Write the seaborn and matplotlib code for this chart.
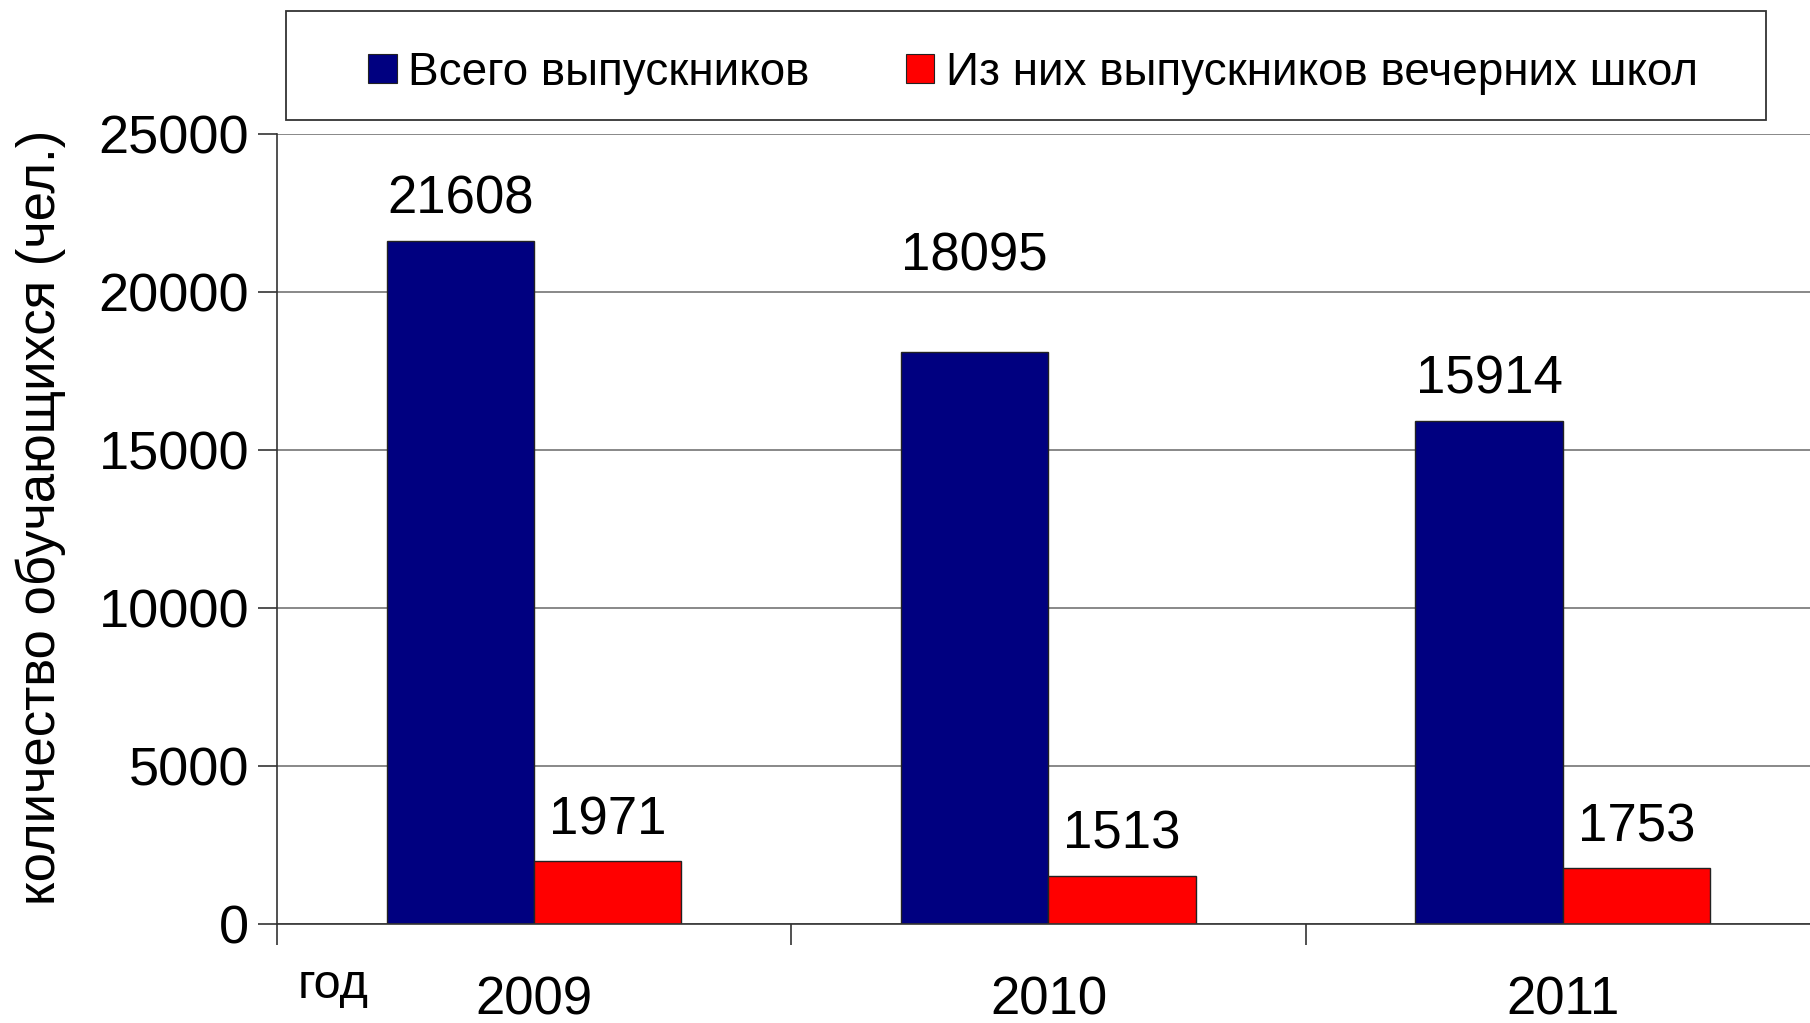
import matplotlib
matplotlib.use("Agg")
import matplotlib.pyplot as plt
import matplotlib.patches as mpatches
import seaborn as sns
import pandas as pd

years = ['2009', '2010', '2011']
series_names = ['Всего выпускников', 'Из них выпускников вечерних школ']
total_grads = [21608, 18095, 15914]
evening_grads = [1971, 1513, 1753]
y_ticks = [0, 5000, 10000, 15000, 20000, 25000]

y_label = 'количество обучающихся (чел.)'
x_note = 'год'

colors = ['#000080', '#FF0000']

def main():
    df = pd.DataFrame({
        'year': years * 2,
        'series': [series_names[0]] * 3 + [series_names[1]] * 3,
        'value': total_grads + evening_grads,
    })

    sns.set_style('white')
    plt.rcParams['font.family'] = ['Liberation Sans', 'DejaVu Sans']
    plt.rcParams['text.color'] = 'black'
    plt.rcParams['axes.labelcolor'] = 'black'
    plt.rcParams['xtick.labelcolor'] = 'black'
    plt.rcParams['ytick.labelcolor'] = 'black'

    fig = plt.figure(figsize=(18.1, 10.23), dpi=100)
    ax = fig.add_axes([0.153, 0.0971, 0.8525, 0.772])

    sns.barplot(data=df, x='year', y='value', hue='series', order=years,
                hue_order=series_names, palette=colors, saturation=1,
                width=0.573, edgecolor='#222222', linewidth=1.0, ax=ax)

    ax.set_xlim(-0.5, 2.5)
    ax.set_ylim(0, 25000)
    ax.set_yticks(y_ticks)
    ax.set_yticklabels([str(t) for t in y_ticks], fontsize=39)
    ax.yaxis.grid(True, color='#7f7f7f', linewidth=1.3)
    ax.set_axisbelow(True)

    # подписи годов далеко под осью, засечки на границах категорий
    ax.set_xticks([0, 1, 2])
    ax.set_xticklabels(years, fontsize=38)
    ax.tick_params(axis='x', which='major', length=0, pad=37)
    ax.set_xticks([-0.5, 0.5, 1.5, 2.5], minor=True)
    ax.tick_params(axis='x', which='minor', length=15, width=1.2,
                   direction='out', color='#333333', bottom=True)
    ax.tick_params(axis='y', length=14, width=1.2, direction='out',
                   color='#333333', left=True, pad=6)

    for side in ['top', 'right']:
        ax.spines[side].set_visible(False)
    for side in ['left', 'bottom']:
        ax.spines[side].set_color('#333333')
        ax.spines[side].set_linewidth(1.2)

    ax.set_xlabel('')
    ax.set_ylabel(y_label, fontsize=38)
    ax.yaxis.set_label_coords(-0.137, 0.514)

    # подписи значений над столбцами
    for cont in ax.containers:
        for bar in cont:
            h = bar.get_height()
            off = 1300
            if h == total_grads[1]:
                off = 3030
            ax.text(bar.get_x() + bar.get_width() / 2, h + off, f'{int(h)}',
                    ha='center', va='center', fontsize=38)

    ax.text(-0.39, -1950, x_note, ha='center', va='center', fontsize=35)

    # легенда в рамке над графиком
    if ax.get_legend() is not None:
        ax.get_legend().remove()
    handles = [mpatches.Patch(facecolor=c, edgecolor='#222222', linewidth=0.8)
               for c in colors]
    fig.legend(handles, series_names, loc='center', ncol=2,
               bbox_to_anchor=(0.5707, 0.929), frameon=False, fontsize=33,
               handlelength=0.62, handleheight=0.62, handletextpad=0.25,
               columnspacing=2.1)
    box = mpatches.Rectangle((0.158, 0.8827), 0.8177, 0.1061,
                             transform=fig.transFigure, fill=False,
                             edgecolor='#333333', linewidth=1.3)
    fig.add_artist(box)

    fig.savefig('out.png', dpi=100)

if __name__ == "__main__":
    main()
